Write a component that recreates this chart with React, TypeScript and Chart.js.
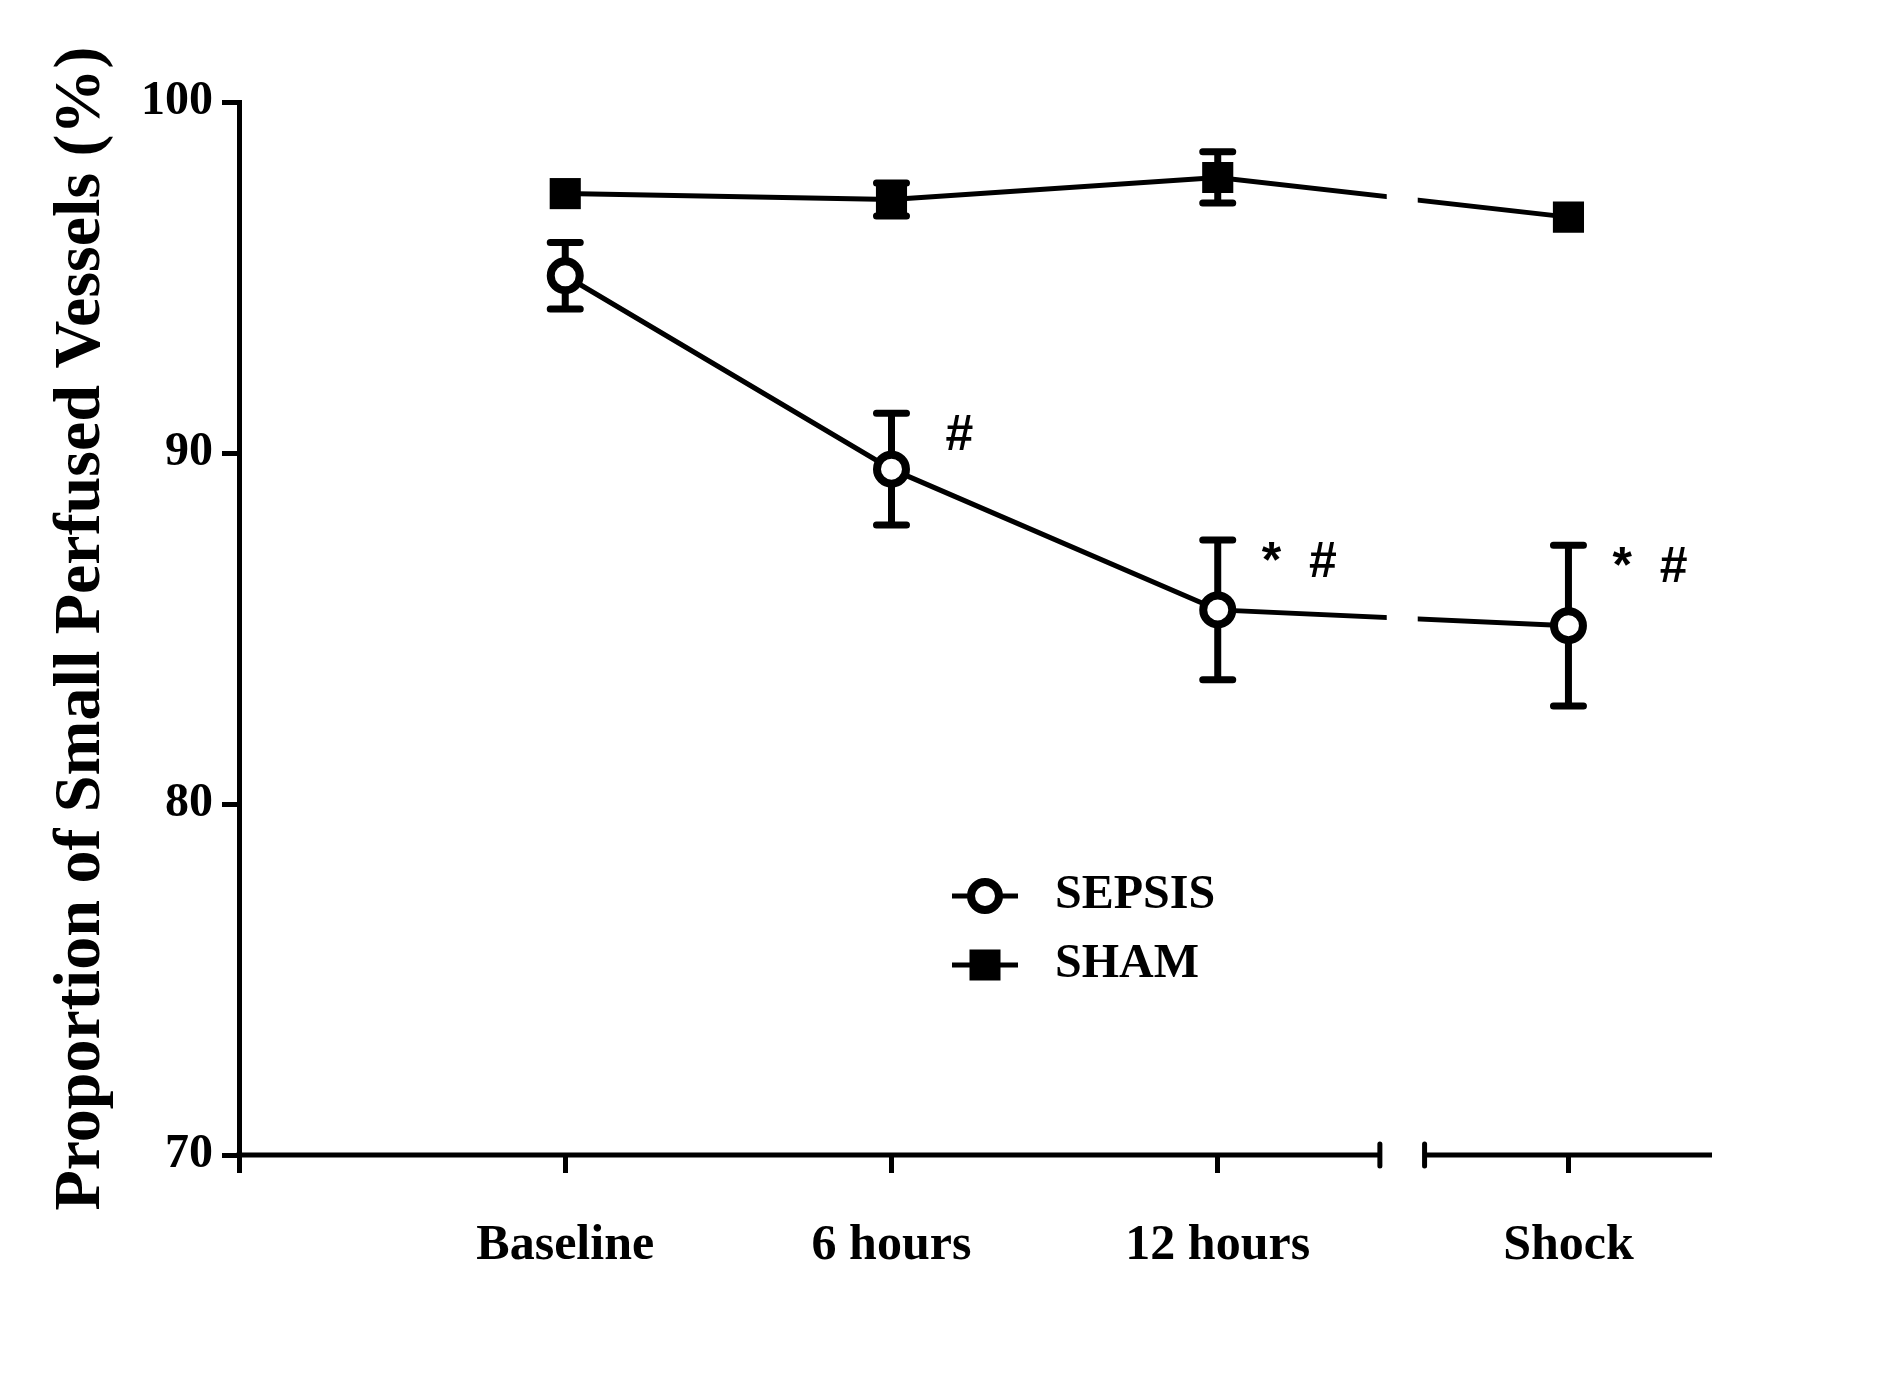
import { useEffect, useRef } from "react";
import { Chart, registerables } from "chart.js";

Chart.register(...registerables);

// time points; the x axis is broken between "12 hours" and "Shock"
const timepoints = ["Baseline", "6 hours", "12 hours", "Shock"];
const timeIndex = [1, 2, 3, 4.075];
const axisBreak = [3.497, 3.634];
const lineBreak = [3.518, 3.613];

const sepsisMean = [95.05, 89.54, 85.53, 85.08];
const sepsisSem = [0.95, 1.59, 1.99, 2.29];
const shamMean = [97.39, 97.22, 97.85, 96.72];
const shamSem = [0.2, 0.47, 0.73, 0.2];

// significance marks next to the SEPSIS points
const sepsisMarks = ["", "#", "*  #", "*  #"];

const yTicks = [70, 80, 90, 100];

const serif = "'Liberation Serif', 'Times New Roman', serif";
const sans = "'Liberation Sans', Arial, sans-serif";

const errorBars = {
  id: "errorBars",
  beforeDatasetsDraw(chart: any) {
    const { ctx, scales } = chart;
    const { x, y } = scales;
    ctx.save();
    ctx.strokeStyle = "#000";
    ctx.lineWidth = 7;
    chart.data.datasets.forEach((ds: any) => {
      ds.mean.forEach((m: number, i: number) => {
        const px = x.getPixelForValue(timeIndex[i]);
        const top = y.getPixelForValue(m + ds.sem[i]);
        const bottom = y.getPixelForValue(m - ds.sem[i]);
        const center = y.getPixelForValue(m);
        // bars shorter than the symbol are hidden behind it
        if (center - top < ds.markerHalf) return;
        ctx.lineCap = "butt";
        ctx.beginPath();
        ctx.moveTo(px, top);
        ctx.lineTo(px, bottom);
        ctx.stroke();
        ctx.lineCap = "round";
        ctx.beginPath();
        ctx.moveTo(px - 15, top);
        ctx.lineTo(px + 15, top);
        ctx.moveTo(px - 15, bottom);
        ctx.lineTo(px + 15, bottom);
        ctx.stroke();
      });
    });
    ctx.restore();
  },
};

const brokenAxis = {
  id: "brokenAxis",
  afterDatasetsDraw(chart: any) {
    const { ctx, chartArea, scales } = chart;
    const { x, y } = scales;
    const yb = chartArea.bottom;
    ctx.save();

    // gap in the data lines at the axis break
    const g0 = x.getPixelForValue(lineBreak[0]);
    const g1 = x.getPixelForValue(lineBreak[1]);
    ctx.fillStyle = "#fff";
    ctx.fillRect(g0, chartArea.top, g1 - g0, yb - 10 - chartArea.top);

    // x axis line with break caps
    const b0 = x.getPixelForValue(axisBreak[0]);
    const b1 = x.getPixelForValue(axisBreak[1]);
    ctx.strokeStyle = "#000";
    ctx.lineWidth = 5;
    ctx.lineCap = "butt";
    ctx.beginPath();
    ctx.moveTo(chartArea.left - 2.5, yb);
    ctx.lineTo(b0, yb);
    ctx.moveTo(b1, yb);
    ctx.lineTo(chartArea.right, yb);
    ctx.stroke();
    ctx.lineCap = "round";
    ctx.beginPath();
    ctx.moveTo(b0, yb - 11);
    ctx.lineTo(b0, yb + 11);
    ctx.moveTo(b1, yb - 11);
    ctx.lineTo(b1, yb + 11);
    ctx.stroke();

    // significance marks
    ctx.fillStyle = "#000";
    ctx.font = `bold 50px ${sans}`;
    ctx.textAlign = "left";
    ctx.textBaseline = "middle";
    sepsisMarks.forEach((mark, i) => {
      if (!mark) return;
      const px = x.getPixelForValue(timeIndex[i]);
      const py = y.getPixelForValue(sepsisMean[i] + sepsisSem[i]);
      ctx.fillText(mark, px + (mark === "#" ? 54 : 44), py + 23);
    });
    ctx.restore();
  },
};

const innerLegend = {
  id: "innerLegend",
  afterDraw(chart: any) {
    const { ctx } = chart;
    ctx.save();
    chart.data.datasets.forEach((ds: any, i: number) => {
      const cy = 896 + i * 69;
      ctx.strokeStyle = "#000";
      ctx.lineWidth = 5;
      ctx.beginPath();
      ctx.moveTo(952, cy);
      ctx.lineTo(1018, cy);
      ctx.stroke();
      if (ds.pointStyle === "circle") {
        ctx.fillStyle = "#fff";
        ctx.lineWidth = 8;
        ctx.beginPath();
        ctx.arc(985, cy, 14, 0, Math.PI * 2);
        ctx.fill();
        ctx.stroke();
      } else {
        ctx.fillStyle = "#000";
        ctx.fillRect(985 - 15.5, cy - 15.5, 31, 31);
      }
      ctx.fillStyle = "#000";
      ctx.font = `bold 48px ${serif}`;
      ctx.textAlign = "left";
      ctx.textBaseline = "middle";
      ctx.fillText(ds.label, 1055, cy);
    });
    ctx.restore();
  },
};

export default function App() {
  const canvasRef = useRef<HTMLCanvasElement>(null);

  useEffect(() => {
    const chart = new Chart(canvasRef.current!, {
      type: "line",
      data: {
        datasets: [
          {
            label: "SEPSIS",
            data: timeIndex.map((t, i) => ({ x: t, y: sepsisMean[i] })),
            mean: sepsisMean,
            sem: sepsisSem,
            markerHalf: 18,
            borderColor: "#000",
            borderWidth: 5,
            pointStyle: "circle",
            pointRadius: 14.5,
            pointBorderWidth: 8,
            pointBackgroundColor: "#fff",
            pointBorderColor: "#000",
            tension: 0,
          } as any,
          {
            label: "SHAM",
            data: timeIndex.map((t, i) => ({ x: t, y: shamMean[i] })),
            mean: shamMean,
            sem: shamSem,
            markerHalf: 15.5,
            borderColor: "#000",
            borderWidth: 5,
            pointStyle: "rect",
            pointRadius: 22,
            pointBorderWidth: 0,
            pointBackgroundColor: "#000",
            tension: 0,
          } as any,
        ],
      },
      options: {
        animation: false,
        responsive: true,
        maintainAspectRatio: false,
        color: "#000",
        layout: { padding: { top: 102, right: 179, bottom: 0, left: 0 } },
        plugins: {
          legend: { display: false },
          tooltip: { enabled: false },
        },
        scales: {
          x: {
            type: "linear",
            min: 0,
            max: 4.515,
            afterBuildTicks: (scale: any) => {
              scale.ticks = [0, ...timeIndex].map((v) => ({ value: v }));
            },
            afterFit: (scale: any) => {
              scale.height = 228;
            },
            border: { display: false },
            grid: {
              drawOnChartArea: false,
              drawTicks: true,
              tickLength: 18,
              tickWidth: 5,
              tickColor: "#000",
              lineWidth: 5,
              color: "#000",
            },
            ticks: {
              autoSkip: false,
              maxRotation: 0,
              padding: 43,
              color: "#000",
              font: { family: serif, size: 50, weight: "bold" },
              callback: (_v: any, i: number) => (i === 0 ? "" : timepoints[i - 1]),
            },
          },
          y: {
            type: "linear",
            min: 70,
            max: 100,
            afterBuildTicks: (scale: any) => {
              scale.ticks = yTicks.map((v) => ({ value: v }));
            },
            afterFit: (scale: any) => {
              scale.width = 239;
            },
            border: { display: true, color: "#000", width: 5 },
            grid: {
              drawOnChartArea: false,
              drawTicks: true,
              tickLength: 17,
              tickWidth: 5,
              tickColor: "#000",
              lineWidth: 5,
              color: "#000",
            },
            ticks: {
              padding: 9,
              color: "#000",
              font: { family: serif, size: 48, weight: "bold" },
            },
            title: {
              display: true,
              text: "Proportion of Small Perfused Vessels (%)",
              color: "#000",
              font: { family: serif, size: 66, weight: "bold" },
              padding: { top: 42, bottom: 0 },
            },
          },
        },
      },
      plugins: [errorBars, brokenAxis, innerLegend],
    });

    return () => chart.destroy();
  }, []);

  return (
    <div style={{ position: "absolute", left: 0, top: 0, width: 1891, height: 1383, background: "#fff" }}>
      <canvas ref={canvasRef}></canvas>
    </div>
  );
}
